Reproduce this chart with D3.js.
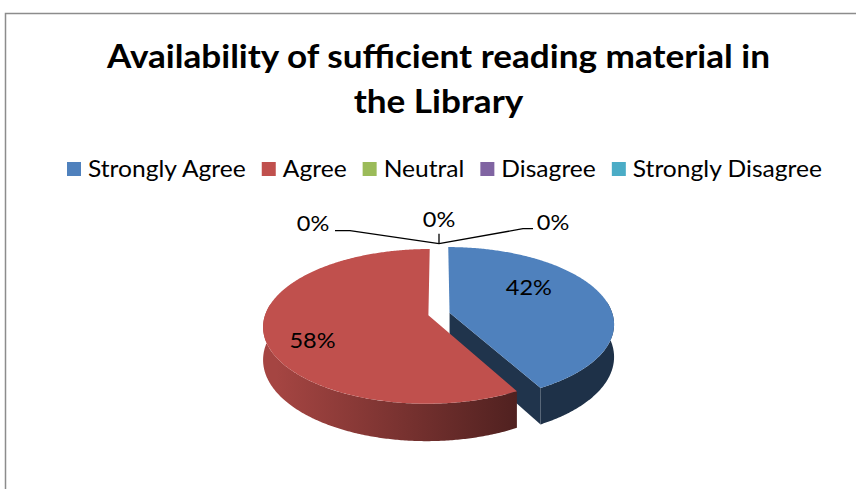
<!DOCTYPE html>
<html>
<head>
<meta charset="utf-8">
<script src="https://cdn.jsdelivr.net/npm/d3@7"></script>
<style>
  body { margin: 0; background: #fff; }
  svg { display: block; }
</style>
</head>
<body>
<div id="chart"></div>
<script>
// data
const categories = ["Strongly Agree", "Agree", "Neutral", "Disagree", "Strongly Disagree"];
const values = [42, 58, 0, 0, 0];
const colors = ["#4F81BD", "#C0504D", "#9BBB59", "#8064A2", "#4BACC6"];
const titleLines = ["Availability of sufficient reading material in", "the Library"];

const W = 856, H = 489;
const font = "Lato, Carlito, 'Open Sans', sans-serif";

const svg = d3.select("#chart").append("svg")
  .attr("width", W)
  .attr("height", H);

// squeeze text to the narrow look of the original font
const squeeze = (sel, k) => {
  sel.each(function () {
    const w = this.getComputedTextLength();
    d3.select(this).attr("textLength", w * k).attr("lengthAdjust", "spacingAndGlyphs");
  });
};

// chart frame (only top and left edges are inside the picture)
svg.append("path")
  .attr("d", "M5.5," + H + " V13.5 H" + W)
  .attr("fill", "none")
  .attr("stroke", "#8c8c8c")
  .attr("stroke-width", 1.5);

// title
const title = svg.append("g").selectAll("text")
  .data(titleLines)
  .join("text")
  .attr("x", 438.5)
  .attr("y", (d, i) => 68 + i * 45)
  .attr("text-anchor", "middle")
  .style("font-family", font)
  .style("font-weight", "bold")
  .style("font-size", "33px")
  .attr("fill", "#000")
  .text(d => d);
const kBold = 663 / title.nodes()[0].getComputedTextLength();
squeeze(title, kBold);

// legend
const color = d3.scaleOrdinal().domain(categories).range(colors);
const legendItems = svg.append("g").selectAll("g")
  .data(categories)
  .join("g");
legendItems.append("text")
  .attr("y", 177)
  .style("font-family", font)
  .style("font-size", "23px")
  .attr("fill", "#000")
  .text(d => d);
const textW = legendItems.select("text").nodes().map(n => n.getComputedTextLength());
const kReg = (755 - categories.length * 21 - (categories.length - 1) * 16) / d3.sum(textW);
let lx = 67;
legendItems.each(function (d, i) {
  const g = d3.select(this);
  g.append("rect")
    .attr("x", lx).attr("y", 162)
    .attr("width", 14).attr("height", 14)
    .attr("fill", color(d));
  g.select("text").attr("x", lx + 21);
  lx += 21 + textW[i] * kReg + 16;
});
squeeze(legendItems.select("text"), kReg);

// 3d pie with a little perspective
const cx = 439, cy = 314, rx = 163, ry = 75.4, depth = 32, persp = 0.143, explode = 0.067;
const arcs = d3.pie().sort(null).value(d => d)(values)
  .map((a, i) => Object.assign(a, { name: categories[i] }));

// plane coords (X right, Y toward viewer, unit radius) -> screen
const proj = (X, Y, dz = 0) => {
  const s = 1 / (1 - persp * Y);
  return [cx + rx * X * s, cy + (ry * Y + dz) * s];
};
const offsetOf = a => {
  if (a.value === 0) return [0, 0];
  const mid = (a.startAngle + a.endAngle) / 2;
  return [explode * Math.sin(mid), -explode * Math.cos(mid)];
};
const rim = (o, ang, dz = 0, r = 1) => proj(o[0] + r * Math.sin(ang), o[1] - r * Math.cos(ang), dz);
const arcPts = (o, a0, a1, dz = 0) => {
  const n = Math.max(2, Math.ceil(Math.abs(a1 - a0) / 0.01));
  return d3.range(n + 1).map(i => rim(o, a0 + (a1 - a0) * i / n, dz));
};
const shade = (c, f) => {
  const r = d3.rgb(c);
  return d3.rgb(r.r * f, r.g * f, r.b * f).formatHex();
};
const closed = d3.line().curve(d3.curveLinearClosed);

const defs = svg.append("defs");
arcs.forEach((a, i) => {
  const grad = defs.append("linearGradient")
    .attr("id", "side" + i)
    .attr("gradientUnits", "userSpaceOnUse")
    .attr("x1", cx - rx).attr("x2", cx + 0.6 * rx)
    .attr("y1", 0).attr("y2", 0);
  grad.append("stop").attr("offset", 0).attr("stop-color", shade(color(a.name), 0.86));
  grad.append("stop").attr("offset", 1).attr("stop-color", shade(color(a.name), 0.38));
});

const slices = arcs.filter(a => a.value > 0);
const pie = svg.append("g");

// radial cut faces that face the viewer
slices.forEach(a => {
  const o = offsetOf(a);
  [[a.startAngle, a.startAngle - Math.PI / 2], [a.endAngle, a.endAngle + Math.PI / 2]].forEach(([ang, n]) => {
    if (-Math.cos(n) > 0.01) {
      pie.append("path")
        .attr("d", closed([proj(o[0], o[1]), rim(o, ang), rim(o, ang, depth), proj(o[0], o[1], depth)]))
        .attr("fill", shade(color(a.name), 0.4));
    }
  });
});

// outer walls, front part only
slices.forEach(a => {
  const o = offsetOf(a);
  const a0 = Math.max(a.startAngle, Math.PI * 0.45);
  const a1 = Math.min(a.endAngle, Math.PI * 1.55);
  if (a0 >= a1) return;
  const pts = arcPts(o, a0, a1).concat(arcPts(o, a1, a0, depth));
  pie.append("path")
    .attr("d", closed(pts))
    .attr("fill", "url(#side" + arcs.indexOf(a) + ")");
});

// top faces
slices.forEach(a => {
  const o = offsetOf(a);
  pie.append("path")
    .attr("d", closed([proj(o[0], o[1])].concat(arcPts(o, a.startAngle, a.endAngle))))
    .attr("fill", color(a.name));
});

// data labels
const labelNudge = { "Strongly Agree": [-28, -12], "Agree": [-2, 12] };
const fmt = v => Math.round(v / d3.sum(values) * 100) + "%";
const labels = svg.append("g");
slices.forEach(a => {
  const o = offsetOf(a);
  const mid = (a.startAngle + a.endAngle) / 2;
  const p = rim(o, mid, 0, 0.7);
  const nd = labelNudge[a.name] || [0, 0];
  labels.append("text")
    .attr("x", p[0] + nd[0])
    .attr("y", p[1] + nd[1] + 7)
    .attr("text-anchor", "middle")
    .style("font-family", font)
    .style("font-size", "22px")
    .attr("fill", "#000")
    .text(fmt(a.value));
});

// zero slices: labels outside with leader lines
const zeros = arcs.filter(a => a.value === 0);
const zeroLabel = [[-126, -20], [0, -24], [114, -21]];
const zeroLeader = [
  [[-89, -13], [-104, -13]],
  [[0, -10]],
  [[84, -15], [94, -15]]
];
zeros.forEach((a, i) => {
  const anchor = rim([0, 0], a.endAngle, -5);
  const line = [anchor].concat(zeroLeader[i].map(q => [anchor[0] + q[0], anchor[1] + q[1]]));
  labels.append("path")
    .attr("d", d3.line()(line))
    .attr("fill", "none")
    .attr("stroke", "#000")
    .attr("stroke-width", 1.3);
  labels.append("text")
    .attr("x", anchor[0] + zeroLabel[i][0])
    .attr("y", anchor[1] + zeroLabel[i][1] + 7)
    .attr("text-anchor", "middle")
    .style("font-family", font)
    .style("font-size", "22px")
    .attr("fill", "#000")
    .text(fmt(a.value));
});
squeeze(labels.selectAll("text"), kReg);
</script>
</body>
</html>
